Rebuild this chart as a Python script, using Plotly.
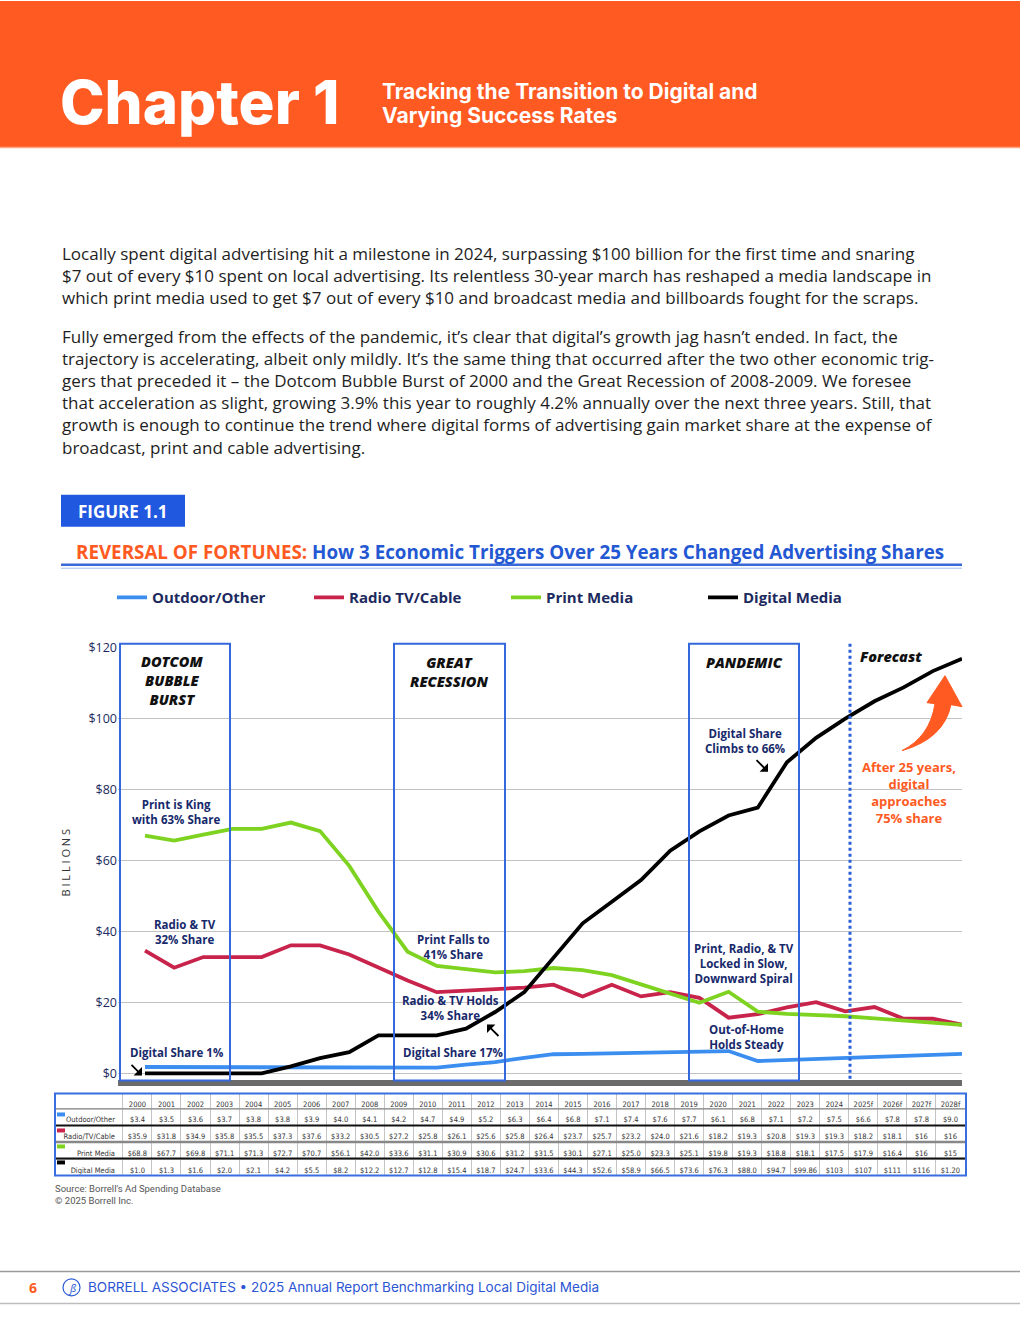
import plotly.graph_objects as go

W, H = 1020, 1320

# ---------------- data ----------------
years = list(range(2000, 2029))
year_labels = [str(y) for y in range(2000, 2025)] + ["2025f", "2026f", "2027f", "2028f"]

# values as drawn by the chart's lines (billions) at each year
outdoor_line = [1.8, 1.8, 1.8, 1.8, 1.8, 1.8, 1.8, 1.8, 1.8, 1.8, 1.6, 2.5, 3.2, 4.4, 5.4, 5.5, 5.7, 5.8, 6.0,
                6.2, 6.3, 3.5, 3.8, 4.1, 4.4, 4.7, 5.0, 5.3, 5.5]
radio_line = [34.6, 29.8, 32.8, 32.8, 32.8, 36.1, 36.1, 33.5, 29.8, 26.2, 22.9, 23.3, 23.9, 24.2, 25.0, 21.7,
              25.0, 21.7, 22.9, 21.3, 15.7, 16.7, 18.6, 20.1, 17.5, 18.7, 15.4, 15.4, 13.7]
print_line = [67.0, 65.6, 67.3, 68.9, 68.9, 70.7, 68.3, 58.5, 45.6, 34.3, 30.3, 29.3, 28.5, 28.8, 29.7, 29.1,
              27.7, 25.1, 22.4, 19.9, 23.0, 17.4, 16.8, 16.5, 16.1, 15.5, 14.9, 14.3, 13.7]
digital_line = [0.0, 0.0, 0.0, 0.0, 0.0, 2.0, 4.3, 6.0, 10.7, 10.7, 10.7, 12.6, 17.3, 22.9, 32.6, 42.3, 48.4,
                54.5, 62.8, 68.2, 72.7, 74.9, 87.7, 94.6, 100.0, 104.9, 108.8, 113.4, 116.9]

# values printed in the data table under the chart
outdoor_tbl = ["$3.4", "$3.5", "$3.6", "$3.7", "$3.8", "$3.8", "$3.9", "$4.0", "$4.1", "$4.2", "$4.7", "$4.9",
               "$5.2", "$6.3", "$6.4", "$6.8", "$7.1", "$7.4", "$7.6", "$7.7", "$6.1", "$6.8", "$7.1", "$7.2",
               "$7.5", "$6.6", "$7.8", "$7.8", "$9.0"]
radio_tbl = ["$35.9", "$31.8", "$34.9", "$35.8", "$35.5", "$37.3", "$37.6", "$33.2", "$30.5", "$27.2", "$25.8",
             "$26.1", "$25.6", "$25.8", "$26.4", "$23.7", "$25.7", "$23.2", "$24.0", "$21.6", "$18.2", "$19.3",
             "$20.8", "$19.3", "$19.3", "$18.2", "$18.1", "$16", "$16"]
print_tbl = ["$68.8", "$67.7", "$69.8", "$71.1", "$71.3", "$72.7", "$70.7", "$56.1", "$42.0", "$33.6", "$31.1",
             "$30.9", "$30.6", "$31.2", "$31.5", "$30.1", "$27.1", "$25.0", "$23.3", "$25.1", "$19.8", "$19.3",
             "$18.8", "$18.1", "$17.5", "$17.9", "$16.4", "$16", "$15"]
digital_tbl = ["$1.0", "$1.3", "$1.6", "$2.0", "$2.1", "$4.2", "$5.5", "$8.2", "$12.2", "$12.7", "$12.8", "$15.4",
               "$18.7", "$24.7", "$33.6", "$44.3", "$52.6", "$58.9", "$66.5", "$73.6", "$76.3", "$88.0", "$94.7",
               "$99.86", "$103", "$107", "$111", "$116", "$1.20"]

series_names = ["Outdoor/Other", "Radio TV/Cable", "Print Media", "Digital Media"]
table_row_labels = ["Outdoor/Other", "Radio/TV/Cable", "Print Media", "Digital Media"]
colors = ["#3b8ef0", "#c8234a", "#7ed321", "#000000"]

y_ticks = [0, 20, 40, 60, 80, 100, 120]
y_tick_labels = ["$0", "$20", "$40", "$60", "$80", "$100", "$120"]

para1 = [
    "Locally spent digital advertising hit a milestone in 2024, surpassing $100 billion for the first time and snaring",
    "$7 out of every $10 spent on local advertising. Its relentless 30-year march has reshaped a media landscape in",
    "which print media used to get $7 out of every $10 and broadcast media and billboards fought for the scraps.",
]
para2 = [
    "Fully emerged from the effects of the pandemic, it’s clear that digital’s growth jag hasn’t ended. In fact, the",
    "trajectory is accelerating, albeit only mildly. It’s the same thing that occurred after the two other economic trig-",
    "gers that preceded it – the Dotcom Bubble Burst of 2000 and the Great Recession of 2008-2009. We foresee",
    "that acceleration as slight, growing 3.9% this year to roughly 4.2% annually over the next three years. Still, that",
    "growth is enough to continue the trend where digital forms of advertising gain market share at the expense of",
    "broadcast, print and cable advertising.",
]

# ---------------- helpers ----------------
# the photographed page shows ~8px of blank above the figure and a slight vertical squeeze;
# page positions below are given in target pixels and mapped accordingly
V_SCALE, V_SHIFT = 1.00715, 8.06


def px(x):
    return x / W


def py(y):
    return 1 - (y * V_SCALE - V_SHIFT) / H


NAVY = "#17296b"
ORANGE = "#ff5a22"
BODY_FONT = "Open Sans"

annotations = []
shapes = []


def ann(text, x, y, size=12, color=NAVY, weight="bold", style="normal", xanchor="center",
        yanchor="middle", family=BODY_FONT, align="center", **kw):
    annotations.append(dict(text=text, x=px(x), y=py(y), xref="paper", yref="paper", showarrow=False,
                            xanchor=xanchor, yanchor=yanchor, align=align,
                            font=dict(family=family, size=size, color=color, weight=weight, style=style),
                            **kw))


def rect(x0, y0, x1, y1, fill=None, line_color=None, lw=0, layer="above"):
    shapes.append(dict(type="rect", xref="paper", yref="paper", x0=px(x0), x1=px(x1), y0=py(y1), y1=py(y0),
                       fillcolor=fill if fill else "rgba(0,0,0,0)",
                       line=dict(color=line_color if line_color else "rgba(0,0,0,0)", width=lw),
                       layer=layer))


def hline(x0, x1, y, color, lw, dash="solid"):
    shapes.append(dict(type="line", xref="paper", yref="paper", x0=px(x0), x1=px(x1), y0=py(y), y1=py(y),
                       line=dict(color=color, width=lw, dash=dash)))


def vline(x, y0, y1, color, lw, dash="solid"):
    shapes.append(dict(type="line", xref="paper", yref="paper", x0=px(x), x1=px(x), y0=py(y0), y1=py(y1),
                       line=dict(color=color, width=lw, dash=dash)))


def arrow(hx, hy, tx, ty, color="black"):
    annotations.append(dict(text="", x=px(hx), y=py(hy), xref="paper", yref="paper", showarrow=True,
                            ax=tx - hx, ay=ty - hy, axref="pixel", ayref="pixel",
                            arrowhead=1, arrowsize=1.1, arrowwidth=1.8, arrowcolor=color))


fig = go.Figure()

# ---------------- line traces ----------------
for vals, name, col in zip([outdoor_line, radio_line, print_line, digital_line], series_names, colors):
    fig.add_trace(go.Scatter(x=years, y=vals, mode="lines", name=name,
                             line=dict(color=col, width=3.8), cliponaxis=False, hoverinfo="x+y+name"))

# ---------------- table ----------------
TFONT = "DejaVu Sans Condensed, Liberation Sans Narrow, Roboto"
table_txt = [outdoor_tbl, radio_tbl, print_tbl, digital_tbl]
cols = [table_row_labels] + [[table_txt[r][i] for r in range(4)] for i in range(len(years))]
fig.add_trace(go.Table(
    domain=dict(x=[px(55), px(966)], y=[py(1175), py(1093)]),
    columnwidth=[68] + [29.07] * len(years),
    header=dict(values=[""] + year_labels, height=15.1, align="center",
                fill=dict(color="white"), line=dict(color="#c4c4c4", width=1),
                font=dict(family=TFONT, size=7.5, color="#333")),
    cells=dict(values=cols, height=16.87, align=["right"] + ["center"] * len(years),
               fill=dict(color="white"), line=dict(color="#c4c4c4", width=1),
               font=dict(family=TFONT, size=7.5, color="#333")),
))

# table decorations
hline(55, 966, 1108.5, "#777777", 1)
hline(55, 966, 1125, "#111111", 2)
hline(55, 966, 1141.5, "#888888", 2.5)
hline(55, 966, 1158, "#111111", 2)
rect(55, 1093, 966, 1175, line_color="#3a6ee0", lw=2)
for yy, col in zip([1114, 1130, 1146, 1162], colors):
    rect(57, yy - 2, 65, yy + 2, fill=col)

# ---------------- page header ----------------
rect(0, 0, W, 146, fill="#ff5a22", layer="below")
hline(0, W, 146.5, "#ffa783", 1.5)
ann("Chapter 1", 58, 101, size=60, color="white", weight=800, xanchor="left", family="Inter")
ann("Tracking the Transition to Digital and", 380, 91, size=21, color="white",
    weight="bold", xanchor="left", family="Inter")
ann("Varying Success Rates", 380, 115, size=21, color="white",
    weight="bold", xanchor="left", family="Inter")

# ---------------- body text ----------------
ann("<br>".join(para1), 60, 275, size=17.0, color="#1e1e1e", weight="normal", xanchor="left", align="left")
ann("<br>".join(para2), 60, 391.5, size=17.0, color="#1e1e1e", weight="normal", xanchor="left", align="left")

# ---------------- figure label & title ----------------
rect(61, 494, 185, 526, fill="#2058e0")
ann("FIGURE 1.1", 123, 511, size=17, color="white", weight="bold")
ann("<span style='color:#ff5a22'>REVERSAL OF FORTUNES:</span> How 3 Economic Triggers Over 25 Years Changed Advertising Shares",
    510, 551, size=18.8, color="#2458d3", weight="bold")
hline(61, 962, 564, "#3a6ad8", 2.5)
hline(61, 962, 567.5, "#a9c0f0", 1)

# ---------------- chart decorations ----------------
BOXC = "#3468dc"
for x0, x1 in [(120, 230), (394, 505), (689, 799)]:
    rect(x0, 643, x1, 1080, line_color=BOXC, lw=2)
vline(850, 643, 1080, "#2a5fd8", 3, dash="dot")

ann("DOTCOM<br>BUBBLE<br>BURST", 172, 680, size=14.5, color="#111", weight=800, style="italic")
ann("GREAT<br>RECESSION", 449, 671, size=14.5, color="#111", weight=800, style="italic")
ann("PANDEMIC", 744, 662, size=14.5, color="#111", weight=800, style="italic")
ann("Forecast", 858, 656, size=14.5, color="#111", weight=800, style="italic", xanchor="left")

ann("Print is King<br>with 63% Share", 176, 811, size=11.5)
ann("Radio & TV<br>32% Share", 185, 931, size=11.5)
ann("Digital Share 1%", 128, 1052, size=11.5, xanchor="left")
arrow(142, 1075, 130, 1063)
ann("Print Falls to<br>41% Share", 453, 946, size=11.5)
ann("Radio & TV Holds<br>34% Share", 450, 1007, size=11.5)
arrow(487, 1024, 500, 1037)
ann("Digital Share 17%", 401, 1052, size=11.5, xanchor="left")
ann("Digital Share<br>Climbs to 66%", 745, 740, size=11.5)
arrow(768, 771, 755, 758)
ann("Print, Radio, & TV<br>Locked in Slow,<br>Downward Spiral", 744, 963, size=11.5)
ann("Out-of-Home<br>Holds Steady", 746, 1036, size=11.5)
ann("After 25 years,<br>digital<br>approaches<br>75% share", 909, 792, size=13, color=ORANGE)


def path_from(points_cmds):
    out = []
    for cmd, pts in points_cmds:
        coords = " ".join(f"{px(x):.5f},{py(y):.5f}" for x, y in pts)
        out.append(f"{cmd} {coords}")
    return " ".join(out) + " Z"


curved_arrow = path_from([
    ("M", [(902, 750)]),
    ("Q", [(944, 738), (951, 704)]),
    ("L", [(962, 706)]),
    ("L", [(945, 675)]),
    ("L", [(927, 702)]),
    ("L", [(935, 703)]),
    ("Q", [(930, 736), (902, 750)]),
])
shapes.append(dict(type="path", xref="paper", yref="paper", path=curved_arrow, fillcolor=ORANGE,
                   line=dict(color=ORANGE, width=1)))

ann("B I L L I O N S", 66, 862, size=11, color="#333", weight="normal", textangle=-90)

# ---------------- footer ----------------
ann("Source: Borrell's Ad Spending Database<br>© 2025 Borrell Inc.", 53, 1194, size=9.5, color="#555",
    weight="normal", xanchor="left", align="left", family="Liberation Sans Narrow, Roboto")
hline(0, W, 1271, "#9a9a9a", 1.5)
hline(0, W, 1303, "#bdbdbd", 1.5)
ann("6", 33, 1287, size=14, color=ORANGE, weight="bold")
shapes.append(dict(type="circle", xref="paper", yref="paper", x0=px(63), x1=px(80), y0=py(1295.5), y1=py(1278.5),
                   line=dict(color="#2c5bd6", width=1.2)))
ann("<i>ß</i>", 71.5, 1287, size=11, color="#2c5bd6", weight="normal")
ann("BORRELL ASSOCIATES • 2025 Annual Report Benchmarking Local Digital Media", 86, 1287, size=13.5,
    color="#2c55d4", weight="normal", xanchor="left", family="Inter")

# ---------------- layout ----------------
fig.update_layout(
    width=W, height=H, margin=dict(l=0, r=0, t=0, b=0, pad=0),
    paper_bgcolor="white", plot_bgcolor="white",
    showlegend=True,
    legend=dict(orientation="h", x=px(112), y=py(597), xanchor="left", yanchor="middle",
                entrywidth=152, entrywidthmode="pixels", itemwidth=30, bgcolor="rgba(0,0,0,0)",
                font=dict(family=BODY_FONT, size=15, color="#1c2a5e", weight="bold")),
    xaxis=dict(domain=[px(118), px(962)], range=[1999.075, 2028], showticklabels=False, showgrid=False,
               zeroline=False, showline=True, linecolor="#6b6b6b", linewidth=6, ticks="", fixedrange=True),
    yaxis=dict(domain=[py(1080), py(647)], range=[-2, 120], tickvals=y_ticks, ticktext=y_tick_labels,
               showgrid=True, gridcolor="#c2c2c2", gridwidth=1, zeroline=False, showline=False, ticks="",
               tickfont=dict(family=BODY_FONT, size=12.5, color="#1c2a5e"), fixedrange=True),
    annotations=annotations, shapes=shapes,
)

fig.write_html(
    "out.html",
    config={"displayModeBar": False},
    post_script=("document.documentElement.style.margin='0px';document.body.style.margin='0px';"
                 "document.body.style.overflow='hidden';"
                 "var gd=document.getElementsByClassName('plotly-graph-div')[0];"
                 "gd.style.position='absolute';gd.style.left='0px';gd.style.top='0px';"),
)
